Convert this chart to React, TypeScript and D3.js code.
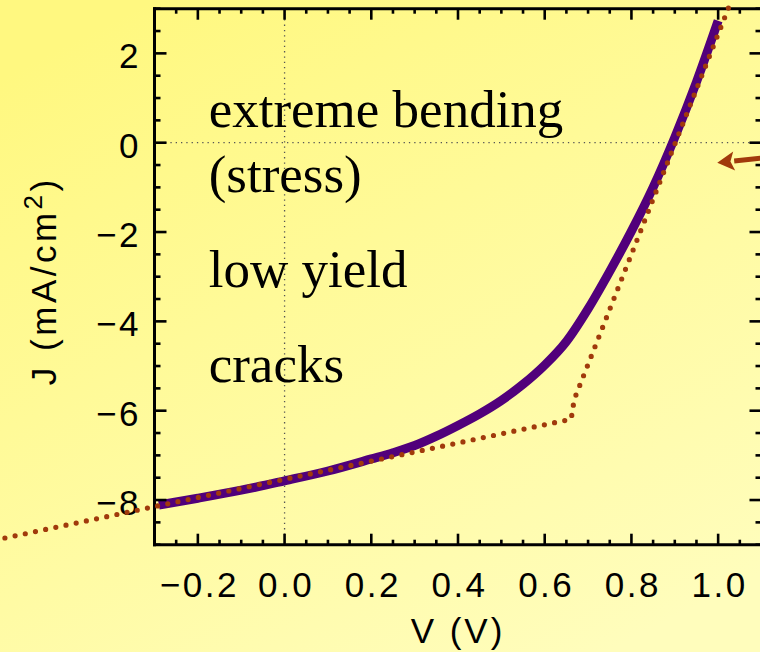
import React from "react";
import * as d3 from "d3";

// Measured J–V curve (purple)
const voltage = [-0.29, -0.2, -0.1, 0, 0.1, 0.2, 0.25, 0.3, 0.35, 0.4, 0.45, 0.5, 0.55, 0.6, 0.65, 0.7, 0.75, 0.8, 0.85, 0.9, 0.95, 1.0];
const current = [-8.11, -7.96, -7.78, -7.57, -7.35, -7.08, -6.94, -6.78, -6.57, -6.33, -6.07, -5.77, -5.41, -4.98, -4.45, -3.72, -2.88, -1.98, -1.0, 0.12, 1.36, 2.73];

// Dotted fit (brown)
const fitV = [-0.645, 0.661, 0.668, 1.028];
const fitJ = [-8.85, -6.19, -5.75, 3.12];

// Axis ticks
const xMajor = [-0.2, 0.0, 0.2, 0.4, 0.6, 0.8, 1.0];
const xMajorLabels = ["−0.2", "0.0", "0.2", "0.4", "0.6", "0.8", "1.0"];
const yMajor = [2, 0, -2, -4, -6, -8];
const yMajorLabels = ["2", "0", "−2", "−4", "−6", "−8"];

// Annotations (data coordinates)
const notes = ["extreme bending", "(stress)", "low yield", "cracks"];
const noteJ = [0.35, -1.1, -3.22, -5.36];
const noteV = -0.175;
const arrowFrom = [1.125, -0.32];
const arrowTo = [0.998, -0.45];

const W = 760;
const H = 652;

export default function App() {
  const x = d3.scaleLinear().domain([-0.3, 1.1]).range([154.5, 761.5]);
  const y = d3.scaleLinear().domain([-9, 3]).range([544.7, 8.7]);

  const xMinor = d3.range(-0.3, 1.1001, 0.05).map((v) => +v.toFixed(3));
  const yMinor = d3.range(-9, 3.001, 0.5);

  const line = d3
    .line<number>()
    .x((_, i) => x(voltage[i]))
    .y((_, i) => y(current[i]))
    .curve(d3.curveMonotoneX);
  const fitLine = d3
    .line<number>()
    .x((_, i) => x(fitV[i]))
    .y((_, i) => y(fitJ[i]));

  const [x0, x1] = x.range();
  const [y0, y1] = y.range();
  const tickFont = "'Liberation Sans', Arial, sans-serif";
  const brown = "#a13a0b";

  const ax1 = x(arrowFrom[0]), ay1 = y(arrowFrom[1]);
  const ax2 = x(arrowTo[0]), ay2 = y(arrowTo[1]);
  const ang = Math.atan2(ay2 - ay1, ax2 - ax1);
  const hl = 17, hw = 9.5;
  const bx = ax2 - hl * Math.cos(ang), by = ay2 - hl * Math.sin(ang);
  const head = [
    [ax2, ay2],
    [bx + hw * Math.sin(ang), by - hw * Math.cos(ang)],
    [ax2 - hl * 0.78 * Math.cos(ang), ay2 - hl * 0.78 * Math.sin(ang)],
    [bx - hw * Math.sin(ang), by + hw * Math.cos(ang)],
  ];

  const majorLen = 12, minorLen = 6;

  return (
    <svg width={W} height={H} style={{ position: "absolute", left: 0, top: 0 }} xmlns="http://www.w3.org/2000/svg">
      <defs>
        <linearGradient id="bg" x1="0.2" y1="0" x2="0.8" y2="1">
          <stop offset="0" stopColor="#fff880" />
          <stop offset="1" stopColor="#fffdbc" />
        </linearGradient>
        <clipPath id="plot">
          <rect x={x0} y={y1} width={x1 - x0} height={y0 - y1} />
        </clipPath>
      </defs>
      <rect x={0} y={0} width={W} height={H} fill="url(#bg)" />

      <line x1={x(0)} x2={x(0)} y1={y1} y2={y0} stroke="#555" strokeWidth={1.3} strokeDasharray="1.3 4" />
      <line x1={x0} x2={x1} y1={y(0)} y2={y(0)} stroke="#555" strokeWidth={1.3} strokeDasharray="1.3 4" />

      <path d={line(voltage) || ""} fill="none" stroke="#51007b" strokeWidth={9} strokeLinecap="butt" clipPath="url(#plot)" />

      <g stroke="#000" strokeWidth={3} fill="none">
        <line x1={x0} x2={x0} y1={y1 - 1.5} y2={y0 + 1.5} />
        <line x1={x1} x2={x1} y1={y1 - 1.5} y2={y0 + 1.5} />
        <line x1={x0 - 1.5} x2={x1 + 1.5} y1={y0} y2={y0} />
        <line x1={x0 - 1.5} x2={x1 + 1.5} y1={y1} y2={y1} />
      </g>
      <g stroke="#000" strokeWidth={2.6}>
        {xMinor.map((v, i) => {
          const major = xMajor.some((m) => Math.abs(m - v) < 1e-6);
          const len = major ? majorLen - 1 : minorLen - 1;
          return (
            <g key={"xt" + i}>
              <line x1={x(v)} x2={x(v)} y1={y0} y2={y0 - len} />
              <line x1={x(v)} x2={x(v)} y1={y1} y2={y1 + len} />
            </g>
          );
        })}
        {yMinor.map((v, i) => {
          const major = yMajor.some((m) => Math.abs(m - v) < 1e-6);
          const len = major ? majorLen : minorLen;
          return (
            <g key={"yt" + i}>
              <line x1={x0} x2={x0 + len} y1={y(v)} y2={y(v)} />
              <line x1={x1} x2={x1 - len} y1={y(v)} y2={y(v)} />
            </g>
          );
        })}
      </g>

      <g fontFamily={tickFont} fontSize={35} fill="#000" letterSpacing={2.5}>
        {xMajor.map((v, i) => (
          <text key={"xl" + i} x={x(v) + 1.5} y={597} textAnchor="middle">
            {xMajorLabels[i]}
          </text>
        ))}
        {yMajor.map((v, i) => (
          <text key={"yl" + i} x={141} y={y(v) + 15} textAnchor="end">
            {yMajorLabels[i]}
          </text>
        ))}
      </g>

      <text x={(x0 + x1) / 2} y={643} textAnchor="middle" fontFamily={tickFont} fontSize={35} letterSpacing={3}>
        V (V)
      </text>
      <text
        transform={`translate(56,${(y0 + y1) / 2 + 4}) rotate(-90)`}
        textAnchor="middle"
        fontFamily={tickFont}
        fontSize={35}
        letterSpacing={3.5}
      >
        J (mA/cm<tspan fontSize={26} dy={-14}>2</tspan>
        <tspan dy={14}>)</tspan>
      </text>

      <g fontFamily="'Liberation Serif', 'Times New Roman', serif" fontSize={53} fill="#000">
        {notes.map((t, i) => (
          <text key={"n" + i} x={x(noteV)} y={y(noteJ[i])}>
            {t}
          </text>
        ))}
      </g>

      <path d={fitLine(fitV) || ""} fill="none" stroke={brown} strokeWidth={5.2} strokeLinecap="round" strokeDasharray="0 10.4" />

      <line x1={ax1} y1={ay1} x2={bx} y2={by} stroke={brown} strokeWidth={5} />
      <polygon points={head.map((p) => p.join(",")).join(" ")} fill={brown} />
    </svg>
  );
}
